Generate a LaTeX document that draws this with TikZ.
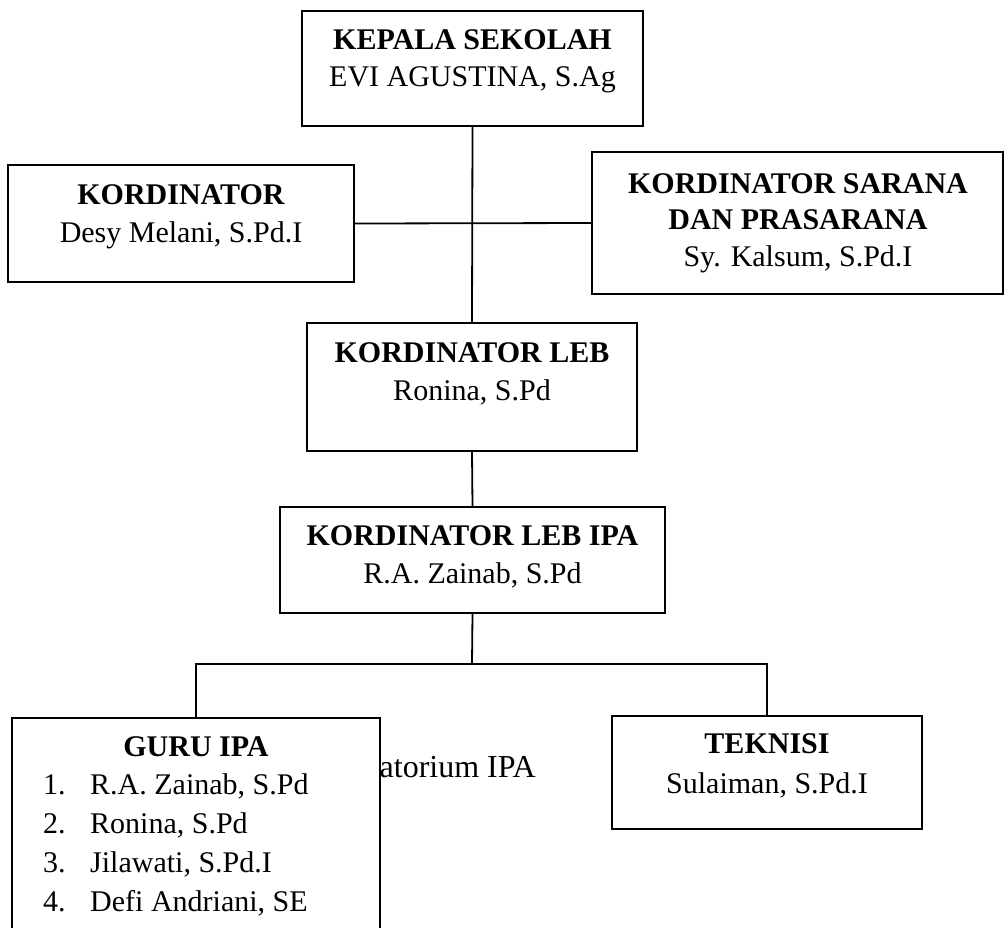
\documentclass[tikz,border=0pt]{standalone}
\usepackage{fontspec}
\setmainfont{Liberation Serif}
\begin{document}
\begin{tikzpicture}[x=1pt,y=-1pt,
  box/.style={draw=black, line width=1.8pt, fill=white, rectangle, inner sep=0pt},
  conn/.style={draw=black, line width=1.8pt},
  bl/.style={anchor=base, inner sep=0pt, font=\fontsize{30}{37}\selectfont\bfseries},
  nl/.style={anchor=base, inner sep=0pt, font=\fontsize{30}{37}\selectfont},
  li/.style={anchor=base west, inner sep=0pt, font=\fontsize{30}{37}\selectfont},
  bg/.style={anchor=base east, inner sep=0pt, font=\fontsize{32}{38}\selectfont}]
\clip (0,0) rectangle (1006,927);
\fill[white] (0,0) rectangle (1006,927);

% boxes
\node[box, minimum width=341pt, minimum height=115pt] (kepala) at (472.5,68.5) {};
\node[box, minimum width=346pt, minimum height=117pt] (kord) at (181,223.5) {};
\node[box, minimum width=411pt, minimum height=142pt] (sarana) at (797.5,223) {};
\node[box, minimum width=330pt, minimum height=128pt] (leb) at (472,387) {};
\node[box, minimum width=385pt, minimum height=106pt] (lebipa) at (472.5,560) {};
\node[box, minimum width=310pt, minimum height=113pt] (tek) at (767,772.5) {};

% partially hidden background text
\node[bg] (labtxt) at (536,777) {Laboratorium IPA};

\node[box, minimum width=368pt, minimum height=240pt] (guru) at (196,838) {};

% connectors
\coordinate (bus) at (472,664);
\draw[conn] (kepala.south) -- (leb.north);
\draw[conn] (kord.east) -- (sarana.west);
\draw[conn] (leb.south) -- (lebipa.north);
\draw[conn] (lebipa.south) -- (bus);
\draw[conn] (guru.north) |- (bus) -| (tek.north);

% texts
\node[bl] (t1a) at (472.5,49) {KEPALA SEKOLAH};
\node[nl] (t1b) at (472.5,86) {EVI AGUSTINA, S.Ag};

\node[bl] (t2a) at (181,204) {KORDINATOR};
\node[nl] (t2b) at (181,242) {Desy Melani, S.Pd.I};

\node[bl] (t3a) at (798,193) {KORDINATOR SARANA};
\node[bl] (t3b) at (798,229) {DAN PRASARANA};
\node[nl] (t3c) at (798,266) {Sy. Kalsum, S.Pd.I};

\node[bl] (t4a) at (472,362) {KORDINATOR LEB};
\node[nl] (t4b) at (472,400) {Ronina, S.Pd};

\node[bl] (t5a) at (472.5,545) {KORDINATOR LEB IPA};
\node[nl] (t5b) at (472.5,583) {R.A. Zainab, S.Pd};

\node[bl] (t6a) at (767,753) {TEKNISI};
\node[nl] (t6b) at (767,793) {Sulaiman, S.Pd.I};

\node[bl] (t7a) at (196,756) {GURU IPA};
\node[li] (n1) at (43,794) {1.};
\node[li] (g1) at (90,794) {R.A. Zainab, S.Pd};
\node[li] (n2) at (43,833) {2.};
\node[li] (g2) at (90,833) {Ronina, S.Pd};
\node[li] (n3) at (43,872) {3.};
\node[li] (g3) at (90,872) {Jilawati, S.Pd.I};
\node[li] (n4) at (43,911) {4.};
\node[li] (g4) at (90,911) {Defi Andriani, SE};
\end{tikzpicture}
\end{document}
